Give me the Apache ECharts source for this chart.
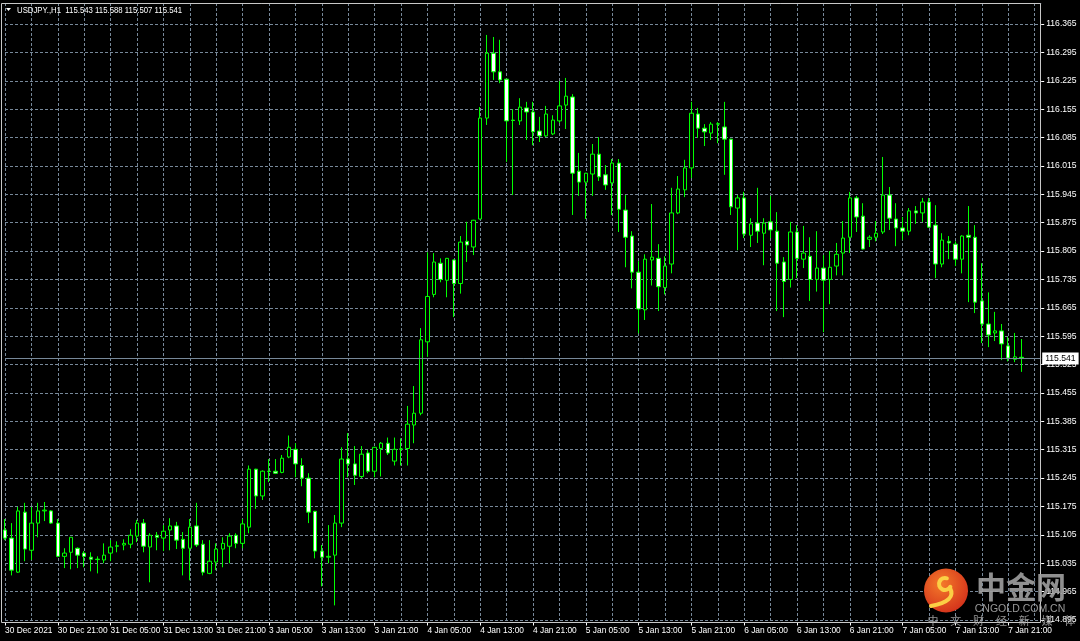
<!DOCTYPE html>
<html>
<head>
<meta charset="utf-8">
<script src="https://cdn.jsdelivr.net/npm/echarts@6/dist/echarts.min.js"></script>
<style>
html,body{margin:0;padding:0;background:#000;}
#chart{width:1080px;height:641px;}
</style>
</head>
<body>
<div id="chart"></div>
<script>
// ---- data (USDJPY., H1) ----
const tickLabels = ['30 Dec 2021','30 Dec 21:00','31 Dec 05:00','31 Dec 13:00','31 Dec 21:00','3 Jan 05:00','3 Jan 13:00','3 Jan 21:00','4 Jan 05:00','4 Jan 13:00','4 Jan 21:00','5 Jan 05:00','5 Jan 13:00','5 Jan 21:00','6 Jan 05:00','6 Jan 13:00','6 Jan 21:00','7 Jan 05:00','7 Jan 13:00','7 Jan 21:00'];
const opens = [115.117,115.097,115.013,115.161,115.067,115.134,115.164,115.164,115.134,115.052,115.062,115.072,115.060,115.050,115.045,115.043,115.060,115.077,115.080,115.082,115.102,115.134,115.075,115.104,115.097,115.117,115.127,115.094,115.072,115.127,115.082,115.010,115.038,115.070,115.077,115.104,115.084,115.124,115.267,115.201,115.262,115.262,115.259,115.297,115.316,115.276,115.245,115.163,115.065,115.050,115.055,115.134,115.292,115.280,115.249,115.307,115.262,115.318,115.331,115.287,115.316,115.318,115.376,115.405,115.581,115.698,115.775,115.733,115.783,115.725,115.829,115.815,115.884,116.133,116.293,116.247,116.229,116.128,116.126,116.158,116.148,116.101,116.089,116.094,116.126,116.165,116.185,116.002,115.975,115.995,116.044,115.993,115.973,116.022,115.906,115.842,115.753,115.660,115.783,115.787,115.715,115.773,115.899,115.956,116.010,116.143,116.108,116.096,116.118,116.111,116.081,115.911,115.936,115.844,115.874,115.849,115.877,115.854,115.778,115.735,115.852,115.785,115.792,115.735,115.763,115.735,115.768,115.800,115.839,115.936,115.891,115.834,115.839,115.852,115.943,115.884,115.862,115.854,115.904,115.899,115.926,115.869,115.773,115.829,115.822,115.785,115.844,115.839,115.682,115.625,115.603,115.608,115.571,115.538,115.543];
const highs = [115.144,115.134,115.174,115.184,115.174,115.184,115.186,115.166,115.144,115.072,115.099,115.074,115.065,115.062,115.052,115.084,115.092,115.089,115.094,115.119,115.142,115.144,115.109,115.112,115.129,115.146,115.137,115.112,115.144,115.184,115.092,115.092,115.084,115.099,115.109,115.109,115.144,115.276,115.268,115.264,115.292,115.292,115.302,115.350,115.331,115.294,115.257,115.164,115.080,115.129,115.154,115.321,115.356,115.324,115.324,115.314,115.322,115.334,115.345,115.345,115.343,115.423,115.472,115.615,115.802,115.800,115.787,115.788,115.784,115.842,115.877,115.882,116.160,116.338,116.333,116.326,116.230,116.155,116.182,116.173,116.173,116.136,116.163,116.140,116.224,116.232,116.192,116.047,115.998,116.069,116.086,116.017,116.032,116.032,115.943,115.854,115.780,115.797,115.921,115.822,115.792,115.961,115.990,116.030,116.173,116.158,116.118,116.123,116.123,116.173,116.082,115.943,115.951,115.886,115.961,115.886,115.941,115.901,115.790,115.877,115.869,115.867,115.839,115.854,115.795,115.805,115.825,115.879,115.951,115.941,115.923,115.844,115.879,116.037,115.963,115.923,115.889,115.911,115.916,115.936,115.936,115.918,115.849,115.842,115.829,115.844,115.916,115.869,115.775,115.703,115.655,115.625,115.593,115.603,115.588];
const lows = [115.092,115.005,115.011,115.040,115.043,115.099,115.139,115.132,115.050,115.023,115.020,115.023,115.025,115.015,115.010,115.035,115.040,115.062,115.067,115.072,115.087,115.062,114.988,115.067,115.065,115.067,115.070,115.005,114.993,115.075,115.005,115.008,115.018,115.025,115.035,115.072,115.072,115.109,115.169,115.191,115.235,115.255,115.257,115.294,115.247,115.225,115.134,115.047,114.978,115.035,114.931,115.124,115.247,115.228,115.245,115.257,115.247,115.249,115.302,115.276,115.276,115.276,115.331,115.400,115.544,115.691,115.728,115.691,115.642,115.700,115.778,115.795,115.883,116.116,116.227,116.219,116.025,115.943,116.116,116.079,116.066,116.074,116.086,116.091,116.121,116.106,115.894,115.941,115.884,115.941,115.978,115.956,115.894,115.852,115.765,115.713,115.602,115.635,115.720,115.657,115.698,115.750,115.896,115.938,115.985,116.084,116.064,116.079,116.071,115.993,115.894,115.807,115.837,115.815,115.825,115.770,115.837,115.657,115.642,115.715,115.738,115.763,115.682,115.705,115.605,115.674,115.745,115.745,115.800,115.852,115.809,115.815,115.829,115.847,115.857,115.817,115.832,115.844,115.872,115.877,115.863,115.738,115.765,115.785,115.768,115.750,115.679,115.652,115.578,115.568,115.583,115.536,115.533,115.531,115.507];
const closes = [115.097,115.018,115.164,115.070,115.134,115.164,115.166,115.134,115.052,115.060,115.099,115.055,115.052,115.045,115.044,115.055,115.075,115.078,115.084,115.104,115.134,115.077,115.104,115.099,115.114,115.127,115.092,115.072,115.124,115.080,115.013,115.040,115.070,115.084,115.102,115.084,115.132,115.267,115.201,115.262,115.261,115.257,115.294,115.321,115.280,115.245,115.161,115.065,115.050,115.052,115.134,115.292,115.280,115.252,115.304,115.262,115.321,115.331,115.307,115.316,115.317,115.378,115.405,115.586,115.693,115.778,115.735,115.787,115.725,115.827,115.820,115.881,116.133,116.293,116.247,116.227,116.126,116.127,116.160,116.148,116.099,116.089,116.143,116.128,116.163,116.187,115.997,115.975,115.997,116.044,115.988,115.968,116.022,115.908,115.839,115.753,115.662,115.785,115.790,115.717,115.768,115.899,115.958,116.010,116.145,116.108,116.099,116.118,116.119,116.081,115.914,115.936,115.847,115.872,115.854,115.874,115.857,115.775,115.730,115.852,115.787,115.800,115.735,115.763,115.733,115.765,115.797,115.837,115.936,115.889,115.810,115.839,115.849,115.943,115.886,115.862,115.854,115.904,115.899,115.926,115.864,115.773,115.832,115.825,115.785,115.842,115.839,115.679,115.625,115.598,115.608,115.576,115.541,115.544,115.541];
const bidPrice = 115.541;
const headerText = 'USDJPY.,H1  115.543 115.588 115.507 115.541';

// ---- chart ----
const FONT = "'Liberation Sans',Arial,sans-serif";
const slotCount = opens.length + 3; // chart shift space on the right
const categories = [];
for (let i = 0; i < slotCount; i++) categories.push(String(i));
const candles = opens.map((o, i) => [o, closes[i], lows[i], highs[i]]);
const isLabelIdx = (idx) => idx % 8 === 0 && idx / 8 < tickLabels.length;

const chart = echarts.init(document.getElementById('chart'), null, {renderer: 'canvas', devicePixelRatio: 1});

const wm = [];
const wmChars = ['中','文','财','经','新','媒','体'];
wmChars.forEach((ch, k) => {
  wm.push({type: 'text', x: 933 + k * 22.8, y: 621, z: 120, silent: true,
    style: {text: ch, fill: 'rgba(175,175,175,0.85)', font: '11px "Noto Sans CJK SC"', textAlign: 'center', textVerticalAlign: 'middle'}});
});

chart.setOption({
  backgroundColor: '#000000',
  animation: false,
  grid: {left: 5, right: 38.8, top: 3, bottom: 21, containLabel: false},
  xAxis: {
    type: 'category', data: categories, boundaryGap: false, offset: 2.5,
    axisLine: {show: false},
    axisTick: {show: true, interval: (idx) => isLabelIdx(idx), length: 3, lineStyle: {color: '#ffffff'}},
    axisLabel: {show: true, interval: (idx) => isLabelIdx(idx), formatter: (v, idx) => tickLabels[idx / 8] || '',
      align: 'left', color: '#ffffff', fontFamily: FONT, fontSize: 8.4, margin: 4},
    splitLine: {show: true, interval: 3, lineStyle: {color: '#778899', type: [3, 2], width: 1}}
  },
  yAxis: {
    type: 'value', position: 'right', min: 114.895, max: 116.4168, interval: 0.07,
    axisLine: {show: false},
    axisTick: {show: true, length: 3, lineStyle: {color: '#ffffff'}},
    axisLabel: {color: '#ffffff', fontFamily: FONT, fontSize: 8.6, margin: 5, showMaxLabel: false,
      formatter: (v) => v.toFixed(3)},
    splitLine: {show: true, lineStyle: {color: '#778899', type: [3, 2], width: 1}}
  },
  series: [{
    type: 'candlestick', data: candles, clip: false, barWidth: 4,
    itemStyle: {color: '#000000', color0: '#ffffff', borderColor: '#00ff00', borderColor0: '#00ff00', borderColorDoji: '#00ff00', borderWidth: 1},
    markLine: {
      silent: true, symbol: ['none', 'none'], animation: false,
      lineStyle: {color: '#778899', type: 'solid', width: 1},
      label: {show: true, position: 'end', distance: 1, formatter: bidPrice.toFixed(3), color: '#000000',
        backgroundColor: '#ffffff', padding: [2, 3, 1, 3], fontFamily: FONT, fontSize: 8.6},
      data: [{yAxis: bidPrice}]
    }
  }],
  graphic: [
    {type: 'rect', z: 100, silent: true, shape: {x: 1.5, y: 3.5, width: 1039, height: 619},
      style: {fill: 'none', stroke: '#c8c8c8', lineWidth: 1}},
    {type: 'polygon', z: 100, silent: true, shape: {points: [[6, 8], [11, 8], [8.5, 11]]}, style: {fill: '#ffffff'}},
    {type: 'text', z: 100, silent: true, x: 17, y: 10, scaleX: 0.82,
      style: {text: headerText, fill: '#ffffff', font: '9.5px ' + FONT, textAlign: 'left', textVerticalAlign: 'middle'}},
    // watermark
    {type: 'circle', z: 110, silent: true, shape: {cx: 946, cy: 590.5, r: 22},
      style: {fill: {type: 'radial', x: 0.4, y: 0.35, r: 0.75, colorStops: [{offset: 0, color: '#f47a2a'}, {offset: 1, color: '#d12c1a'}]}}},
    {type: 'arc', z: 111, silent: true, shape: {cx: 945, cy: 584, r: 6, startAngle: Math.PI * 0.15, endAngle: Math.PI * 1.6, clockwise: true},
      style: {stroke: '#fbcf45', lineWidth: 4, fill: 'none', lineCap: 'round'}},
    {type: 'bezierCurve', z: 111, silent: true, shape: {x1: 950, y1: 588, cpx1: 957, cpy1: 601, x2: 931, y2: 606},
      style: {stroke: '#fbcf45', lineWidth: 4, fill: 'none', lineCap: 'round'}},
    {type: 'text', z: 110, silent: true, x: 1021, y: 587,
      style: {text: '中金网', fill: 'rgba(160,160,160,0.9)', font: 'bold 30px "Noto Sans CJK SC"', textAlign: 'center', textVerticalAlign: 'middle'}},
    {type: 'text', z: 110, silent: true, x: 1020, y: 609,
      style: {text: 'CNGOLD.COM.CN', fill: 'rgba(170,170,170,0.9)', font: '10.5px "Liberation Sans"', textAlign: 'center', textVerticalAlign: 'middle'}}
  ].concat(wm)
});
</script>
</body>
</html>
